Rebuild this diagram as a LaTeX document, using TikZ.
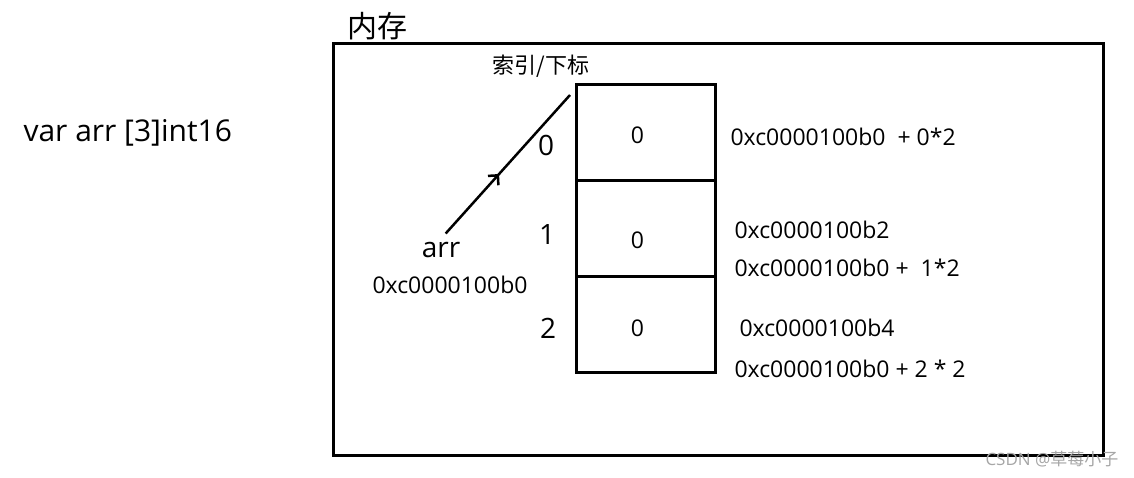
\documentclass[tikz,border=0pt]{standalone}
\usepackage{fontspec}
\setmainfont{Open Sans}
\newfontfamily\cjk{Noto Sans CJK SC}
\usepackage{tikz}
\usetikzlibrary{arrows.meta, positioning, decorations.markings}
\tikzset{
  % Memory layout styles
  memframe/.style={rectangle, draw=black, line width=3pt, outer sep=0pt},
  cell/.style={rectangle, draw=black, line width=3pt, minimum width=139pt, minimum height=96pt, outer sep=0pt, text height=17pt, text depth=0pt, font=\fontsize{23}{27}\selectfont},
  idx/.style={font=\fontsize{28}{32}\selectfont},
  addr/.style={anchor=west, font=\fontsize{23}{27}\selectfont},
  cjklabel/.style={font=\cjk\fontsize{#1}{#1}\selectfont},
  cjklabel/.default={22},
  midarrow/.style={line width=2.5pt, decoration={markings, mark=at position 0.45 with {\arrow{Straight Barb[length=7pt,width=14pt]}}}, postaction={decorate}},
}
\begin{document}
\begin{tikzpicture}[x=1pt, y=-1pt]
    \useasboundingbox (0,0) rectangle (1134,477);

    % Declaration
    \node[anchor=west, font=\fontsize{30}{34}\selectfont] (decl) at (20,133) {var arr [3]int16};

    % Memory frame
    \node[memframe, minimum width=770pt, minimum height=412pt, anchor=north west] (mem) at (333,43) {};
    \node[cjklabel=30] (memtitle) at (377,26) {内存};

    % Array cells
    \node[cell] (cell0) at (645.5,132) {\hspace{-16pt}\raisebox{-3pt}{0}};
    \node[cell, below=0pt of cell0] (cell1) {\hspace{-16pt}\raisebox{-12pt}{0}};
    \node[cell, below=0pt of cell1] (cell2) {\hspace{-16pt}\raisebox{-4pt}{0}};

    % Indices
    \node[cjklabel] (idxlabel) at (541,66) {索引/下标};
    \node[idx] (i0) at (546,145) {0};
    \node[idx] (i1) at (547,234) {1};
    \node[idx] (i2) at (548,328) {2};

    % Pointer
    \node[font=\fontsize{28}{32}\selectfont] (arr) at (441,250) {arr};
    \node[font=\fontsize{23}{27}\selectfont] (arraddr) at (450,285) {0xc0000100b0};
    \coordinate (tip) at (570,95);
    \draw[midarrow, shorten <=7pt] (arr.north) -- (tip);

    % Addresses
    \node[addr] (a0) at (727,137) {0xc0000100b0~ + 0*2};
    \node[addr] (a1) at (731,230) {0xc0000100b2};
    \node[addr] (a1b) at (731,268) {0xc0000100b0 + \ 1*2};
    \node[addr] (a2) at (736,328) {0xc0000100b4};
    \node[addr] (a2b) at (731,369) {0xc0000100b0 + 2 * 2};

    % Watermark
    \node[anchor=east, text=gray!70, font=\fontsize{17}{19}\selectfont] (wmark) at (1122,459) {CSDN @{\cjk 草莓小子}};
  \end{tikzpicture}
\end{document}
